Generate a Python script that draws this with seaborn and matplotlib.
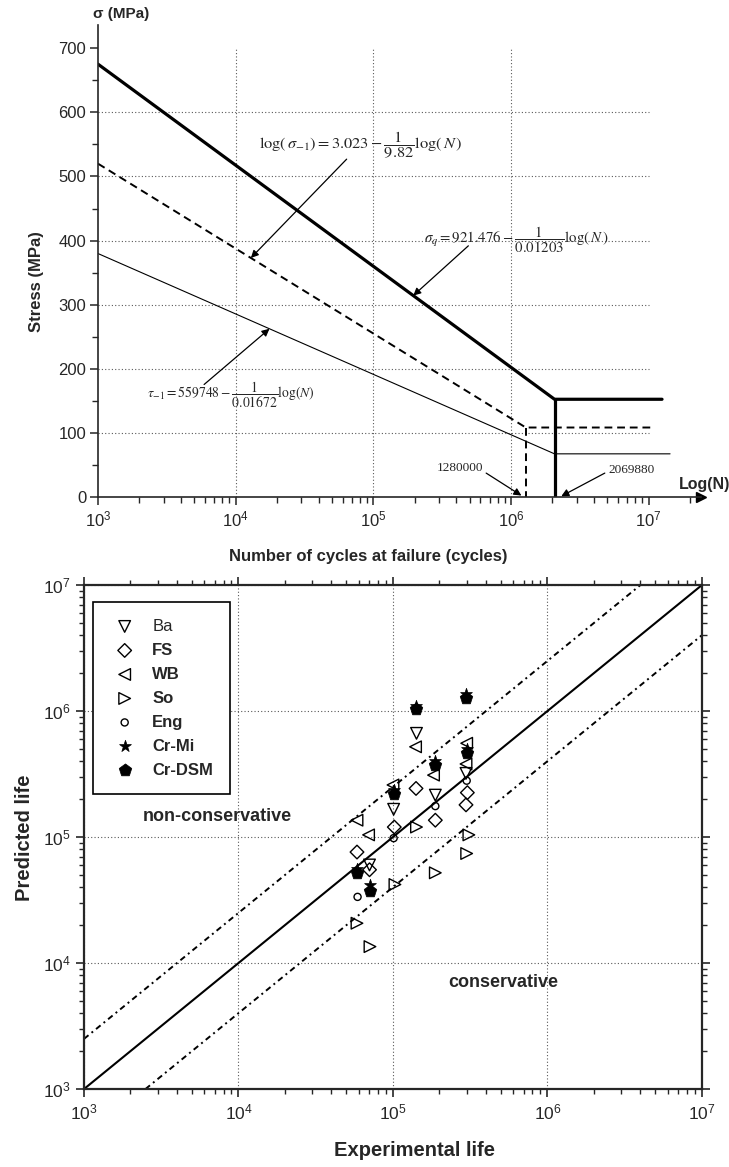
import numpy as np
import pandas as pd
import matplotlib
matplotlib.use("Agg")
import matplotlib.pyplot as plt
from matplotlib.ticker import LogLocator, MultipleLocator, NullFormatter
import seaborn as sns

# ---------------- S-N curves (upper panel) ----------------
n_start = 1e3
# sigma_q : thick solid
sq_start, sq_knee, sq_limit, sq_end = 675, 2069880, 153, 1.25e7
# sigma_-1 : dashed
s1_start, s1_knee, s1_limit, s1_end = 520, 1280000, 109, 1.08e7
# tau_-1 : thin solid
t1_start, t1_knee, t1_limit, t1_end = 380, 2069880, 68, 1.43e7

stress_ticks = [0, 100, 200, 300, 400, 500, 600, 700]
grid_decades = [1e4, 1e5, 1e6]

# ---------------- life predictions (lower panel) ----------------
exp_ba = [1.42e5, 1.88e5, 2.97e5, 1.01e5, 7.05e4]
pred_ba = [6.65e5, 2.15e5, 3.2e5, 1.66e5, 6.0e4]

exp_fs = [1.41e5, 3.03e5, 2.97e5, 1.88e5, 1.02e5, 5.85e4, 7.05e4]
pred_fs = [2.43e5, 2.25e5, 1.8e5, 1.36e5, 1.2e5, 7.6e4, 5.5e4]

exp_wb = [1.40e5, 3.0e5, 2.97e5, 1.83e5, 1.0e5, 5.85e4, 6.95e4]
pred_wb = [5.2e5, 5.55e5, 3.8e5, 3.1e5, 2.59e5, 1.36e5, 1.04e5]

exp_so = [1.42e5, 3.1e5, 3.0e5, 1.88e5, 1.03e5, 5.85e4, 7.1e4]
pred_so = [1.2e5, 1.04e5, 7.4e4, 5.2e4, 4.2e4, 2.07e4, 1.35e4]

exp_eng = [3.0e5, 1.88e5, 1.01e5, 5.9e4]
pred_eng = [2.8e5, 1.76e5, 9.8e4, 3.35e4]

exp_crmi = [5.85e4, 7.05e4, 1.01e5, 1.41e5, 1.88e5, 2.97e5, 3.02e5]
pred_crmi = [5.6e4, 4.2e4, 2.36e5, 1.1e6, 4.0e5, 1.37e6, 5.0e5]

exp_crdsm = [5.85e4, 7.05e4, 1.01e5, 1.41e5, 1.88e5, 2.97e5, 3.02e5]
pred_crdsm = [5.2e4, 3.7e4, 2.2e5, 1.03e6, 3.75e5, 1.28e6, 4.65e5]

band_factor = 2.5
life_range = [1e3, 1e7]

# ---------------- styling ----------------
sns.set_style("ticks")
plt.rcParams["font.family"] = ["Liberation Sans", "DejaVu Sans"]
plt.rcParams["mathtext.fontset"] = "stix"
plt.rcParams["axes.unicode_minus"] = False

fig = plt.figure(figsize=(7.29, 11.67), dpi=100)
ax1 = fig.add_axes([0.1344, 0.5737, 0.8272, 0.4049])
ax2 = fig.add_axes([0.1152, 0.0668, 0.8477, 0.4319])


def sn_value(n, start, knee, limit):
    """Stress on the sloped branch of a bilinear S-N curve (log N axis)."""
    return start + (limit - start) * (np.log10(n) - 3) / (np.log10(knee) - 3)


# ---------------- upper panel ----------------
ax1.set_xscale("log")
ax1.set_xlim(1e3, 10 ** 7.38)
ax1.set_ylim(0, 736)

# dotted grid restricted to the 1e3..1e7 / 0..700 field
ax1.hlines(stress_ticks[1:-1], 1e3, 1e7, colors="0.35", lw=0.8,
           linestyles=(0, (1, 2)), zorder=0)
ax1.vlines(grid_decades, 0, 700, colors="0.35", lw=0.8,
           linestyles=(0, (1, 2)), zorder=0)

# sigma_q
sns.lineplot(x=[n_start, sq_knee, sq_end], y=[sq_start, sq_limit, sq_limit],
             ax=ax1, color="k", lw=2.3, sort=False, estimator=None)
sns.lineplot(x=[sq_knee, sq_knee], y=[sq_limit, 0], ax=ax1, color="k",
             lw=2.3, sort=False, estimator=None)
# sigma_-1
sns.lineplot(x=[n_start, s1_knee, s1_end], y=[s1_start, s1_limit, s1_limit],
             ax=ax1, color="k", lw=1.4, linestyle=(0, (4, 2.5)), sort=False,
             estimator=None)
sns.lineplot(x=[s1_knee, s1_knee], y=[s1_limit, 0], ax=ax1, color="k",
             lw=1.4, linestyle=(0, (4, 2.5)), sort=False, estimator=None)
# tau_-1
sns.lineplot(x=[n_start, t1_knee, t1_end], y=[t1_start, t1_limit, t1_limit],
             ax=ax1, color="k", lw=0.8, sort=False, estimator=None)

arrow = dict(arrowstyle="-|>", color="k", lw=0.9, mutation_scale=11,
             shrinkA=0, shrinkB=0)
eq_kw = dict(ha="center", va="center", math_fontfamily="stix")

n_tip = 1.29e4
ax1.text(8.1e4, 549,
         r"$\log(\,\sigma_{-1}) = 3.023 - \dfrac{1}{9.82}\log(\,N\,)$",
         fontsize=11.8, **eq_kw)
ax1.annotate("", xy=(n_tip, sn_value(n_tip, s1_start, s1_knee, s1_limit)),
             xytext=(6.4e4, 527), arrowprops=arrow)

n_tip = 1.95e5
ax1.text(1.1e6, 401, r"$\sigma_q = 921.476 - \dfrac{1}{0.01203}\log(\,N\,)$",
         fontsize=10.7, **eq_kw)
ax1.annotate("", xy=(n_tip, sn_value(n_tip, sq_start, sq_knee, sq_limit)),
             xytext=(4.9e5, 392), arrowprops=arrow)

n_tip = 1.76e4
ax1.text(9.2e3, 160, r"$\tau_{-1} = 559748 - \dfrac{1}{0.01672}\log(N)$",
         fontsize=9.8, **eq_kw)
ax1.annotate("", xy=(n_tip, sn_value(n_tip, t1_start, t1_knee, t1_limit)),
             xytext=(5.9e3, 176), arrowprops=arrow)

ax1.text(4.26e5, 46, f"{s1_knee}", ha="center", va="center", fontsize=9.5,
         family=["Liberation Serif", "DejaVu Serif"])
ax1.annotate("", xy=(s1_knee * 0.93, 3), xytext=(6.6e5, 38), arrowprops=arrow)
ax1.text(7.55e6, 43, f"{sq_knee}", ha="center", va="center", fontsize=9.5,
         family=["Liberation Serif", "DejaVu Serif"])
ax1.annotate("", xy=(sq_knee * 1.12, 2), xytext=(4.8e6, 38), arrowprops=arrow)

ax1.set_xticks([1e3, 1e4, 1e5, 1e6, 1e7])
ax1.xaxis.set_minor_locator(LogLocator(base=10, subs=np.arange(2, 10), numticks=100))
ax1.xaxis.set_minor_formatter(NullFormatter())
ax1.set_xlim(1e3, 10 ** 7.38)
ax1.yaxis.set_major_locator(MultipleLocator(100))
ax1.yaxis.set_minor_locator(MultipleLocator(50))
ax1.tick_params(which="major", direction="out", length=5.5, width=1.1,
                labelsize=12, pad=3)
ax1.tick_params(which="minor", direction="out", length=4, width=1.0)
for side in ("top", "right"):
    ax1.spines[side].set_visible(False)
for side in ("left", "bottom"):
    ax1.spines[side].set_linewidth(1.2)
ax1.plot(1, 0, ">k", ms=7, transform=ax1.get_yaxis_transform(), clip_on=False)
ax1.plot(0, 1, "^k", ms=7, transform=ax1.get_xaxis_transform(), clip_on=False)
ax1.set_xlabel("")
ax1.set_ylabel("")

fig.text(37 / 729, 1 - 282 / 1167, "Stress (MPa)", rotation=90, ha="center",
         va="center", fontsize=12, fontweight="bold")
fig.text(368 / 729, 1 - 557 / 1167, "Number of cycles at failure (cycles)",
         ha="center", va="center", fontsize=12, fontweight="bold")
fig.text(121 / 729, 1 - 14 / 1167, "σ (MPa)", ha="center", va="center",
         fontsize=11, fontweight="bold")
fig.text(705 / 729, 1 - 484 / 1167, "Log(N)", ha="center", va="center",
         fontsize=11.5, fontweight="bold")

# ---------------- lower panel ----------------
ax2.set_xscale("log")
ax2.set_yscale("log")

sns.lineplot(x=life_range, y=life_range, ax=ax2, color="k", lw=1.5,
             sort=False, estimator=None)
band_ls = (0, (3, 2, 1, 2))
sns.lineplot(x=[life_range[0], life_range[1] / band_factor],
             y=[life_range[0] * band_factor, life_range[1]], ax=ax2,
             color="k", lw=1.4, linestyle=band_ls, sort=False, estimator=None)
sns.lineplot(x=[life_range[0] * band_factor, life_range[1]],
             y=[life_range[0], life_range[1] / band_factor], ax=ax2,
             color="k", lw=1.4, linestyle=band_ls, sort=False, estimator=None)

open_kw = dict(facecolors="none", edgecolor="k", linewidth=1.0, ax=ax2, zorder=3)
sns.scatterplot(x=exp_ba, y=pred_ba, marker="v", s=70, label="Ba", **open_kw)
sns.scatterplot(x=exp_fs, y=pred_fs, marker="D", s=48, label="FS", **open_kw)
sns.scatterplot(x=exp_wb, y=pred_wb, marker="<", s=70, label="WB", **open_kw)
sns.scatterplot(x=exp_so, y=pred_so, marker=">", s=70, label="So", **open_kw)
sns.scatterplot(x=exp_eng, y=pred_eng, marker="o", s=26, label="Eng", **open_kw)
sns.scatterplot(x=exp_crmi, y=pred_crmi, marker="*", s=80, color="k",
                edgecolor="k", linewidth=0.5, label="Cr-Mi", ax=ax2, zorder=4)
sns.scatterplot(x=exp_crdsm, y=pred_crdsm, marker="p", s=90, color="k",
                edgecolor="k", linewidth=0.5, label="Cr-DSM", ax=ax2, zorder=5)

ax2.set_xlim(*life_range)
ax2.set_ylim(*life_range)
ax2.grid(True, which="major", color="0.35", lw=0.8, linestyle=(0, (1, 2)))
ax2.set_axisbelow(True)
for axis in (ax2.xaxis, ax2.yaxis):
    axis.set_major_locator(LogLocator(base=10, numticks=10))
    axis.set_minor_locator(LogLocator(base=10, subs=np.arange(2, 10), numticks=100))
    axis.set_minor_formatter(NullFormatter())
ax2.tick_params(which="both", direction="out", top=True, right=True)
ax2.tick_params(which="major", length=5.5, width=1.2, labelsize=12.5, pad=4)
ax2.tick_params(which="minor", length=3.5, width=1.0)
for side in ax2.spines.values():
    side.set_linewidth(1.6)

ax2.text(7.3e3, 1.45e5, "non-conservative", ha="center", va="center",
         fontsize=13, fontweight="bold")
ax2.text(5.2e5, 7.06e3, "conservative", ha="center", va="center",
         fontsize=13, fontweight="bold")

leg = ax2.legend(loc="upper left", bbox_to_anchor=(0.0146, 0.966),
                 borderaxespad=0, frameon=True, fancybox=False, edgecolor="k",
                 framealpha=1, prop={"size": 12, "weight": "bold"},
                 labelspacing=0.54, borderpad=1.0, handletextpad=0.75,
                 handlelength=1.8)
leg.get_frame().set_linewidth(1.2)
for t in leg.get_texts():
    if t.get_text() == "Ba":
        t.set_fontweight("normal")

ax2.set_xlabel("")
ax2.set_ylabel("")
fig.text(25 / 729, 1 - 838 / 1167, "Predicted life", rotation=90, ha="center",
         va="center", fontsize=14.5, fontweight="bold")
fig.text(415 / 729, 1 - 1151 / 1167, "Experimental life", ha="center",
         va="center", fontsize=14.5, fontweight="bold")

fig.savefig("out.png", dpi=100, facecolor="white")
